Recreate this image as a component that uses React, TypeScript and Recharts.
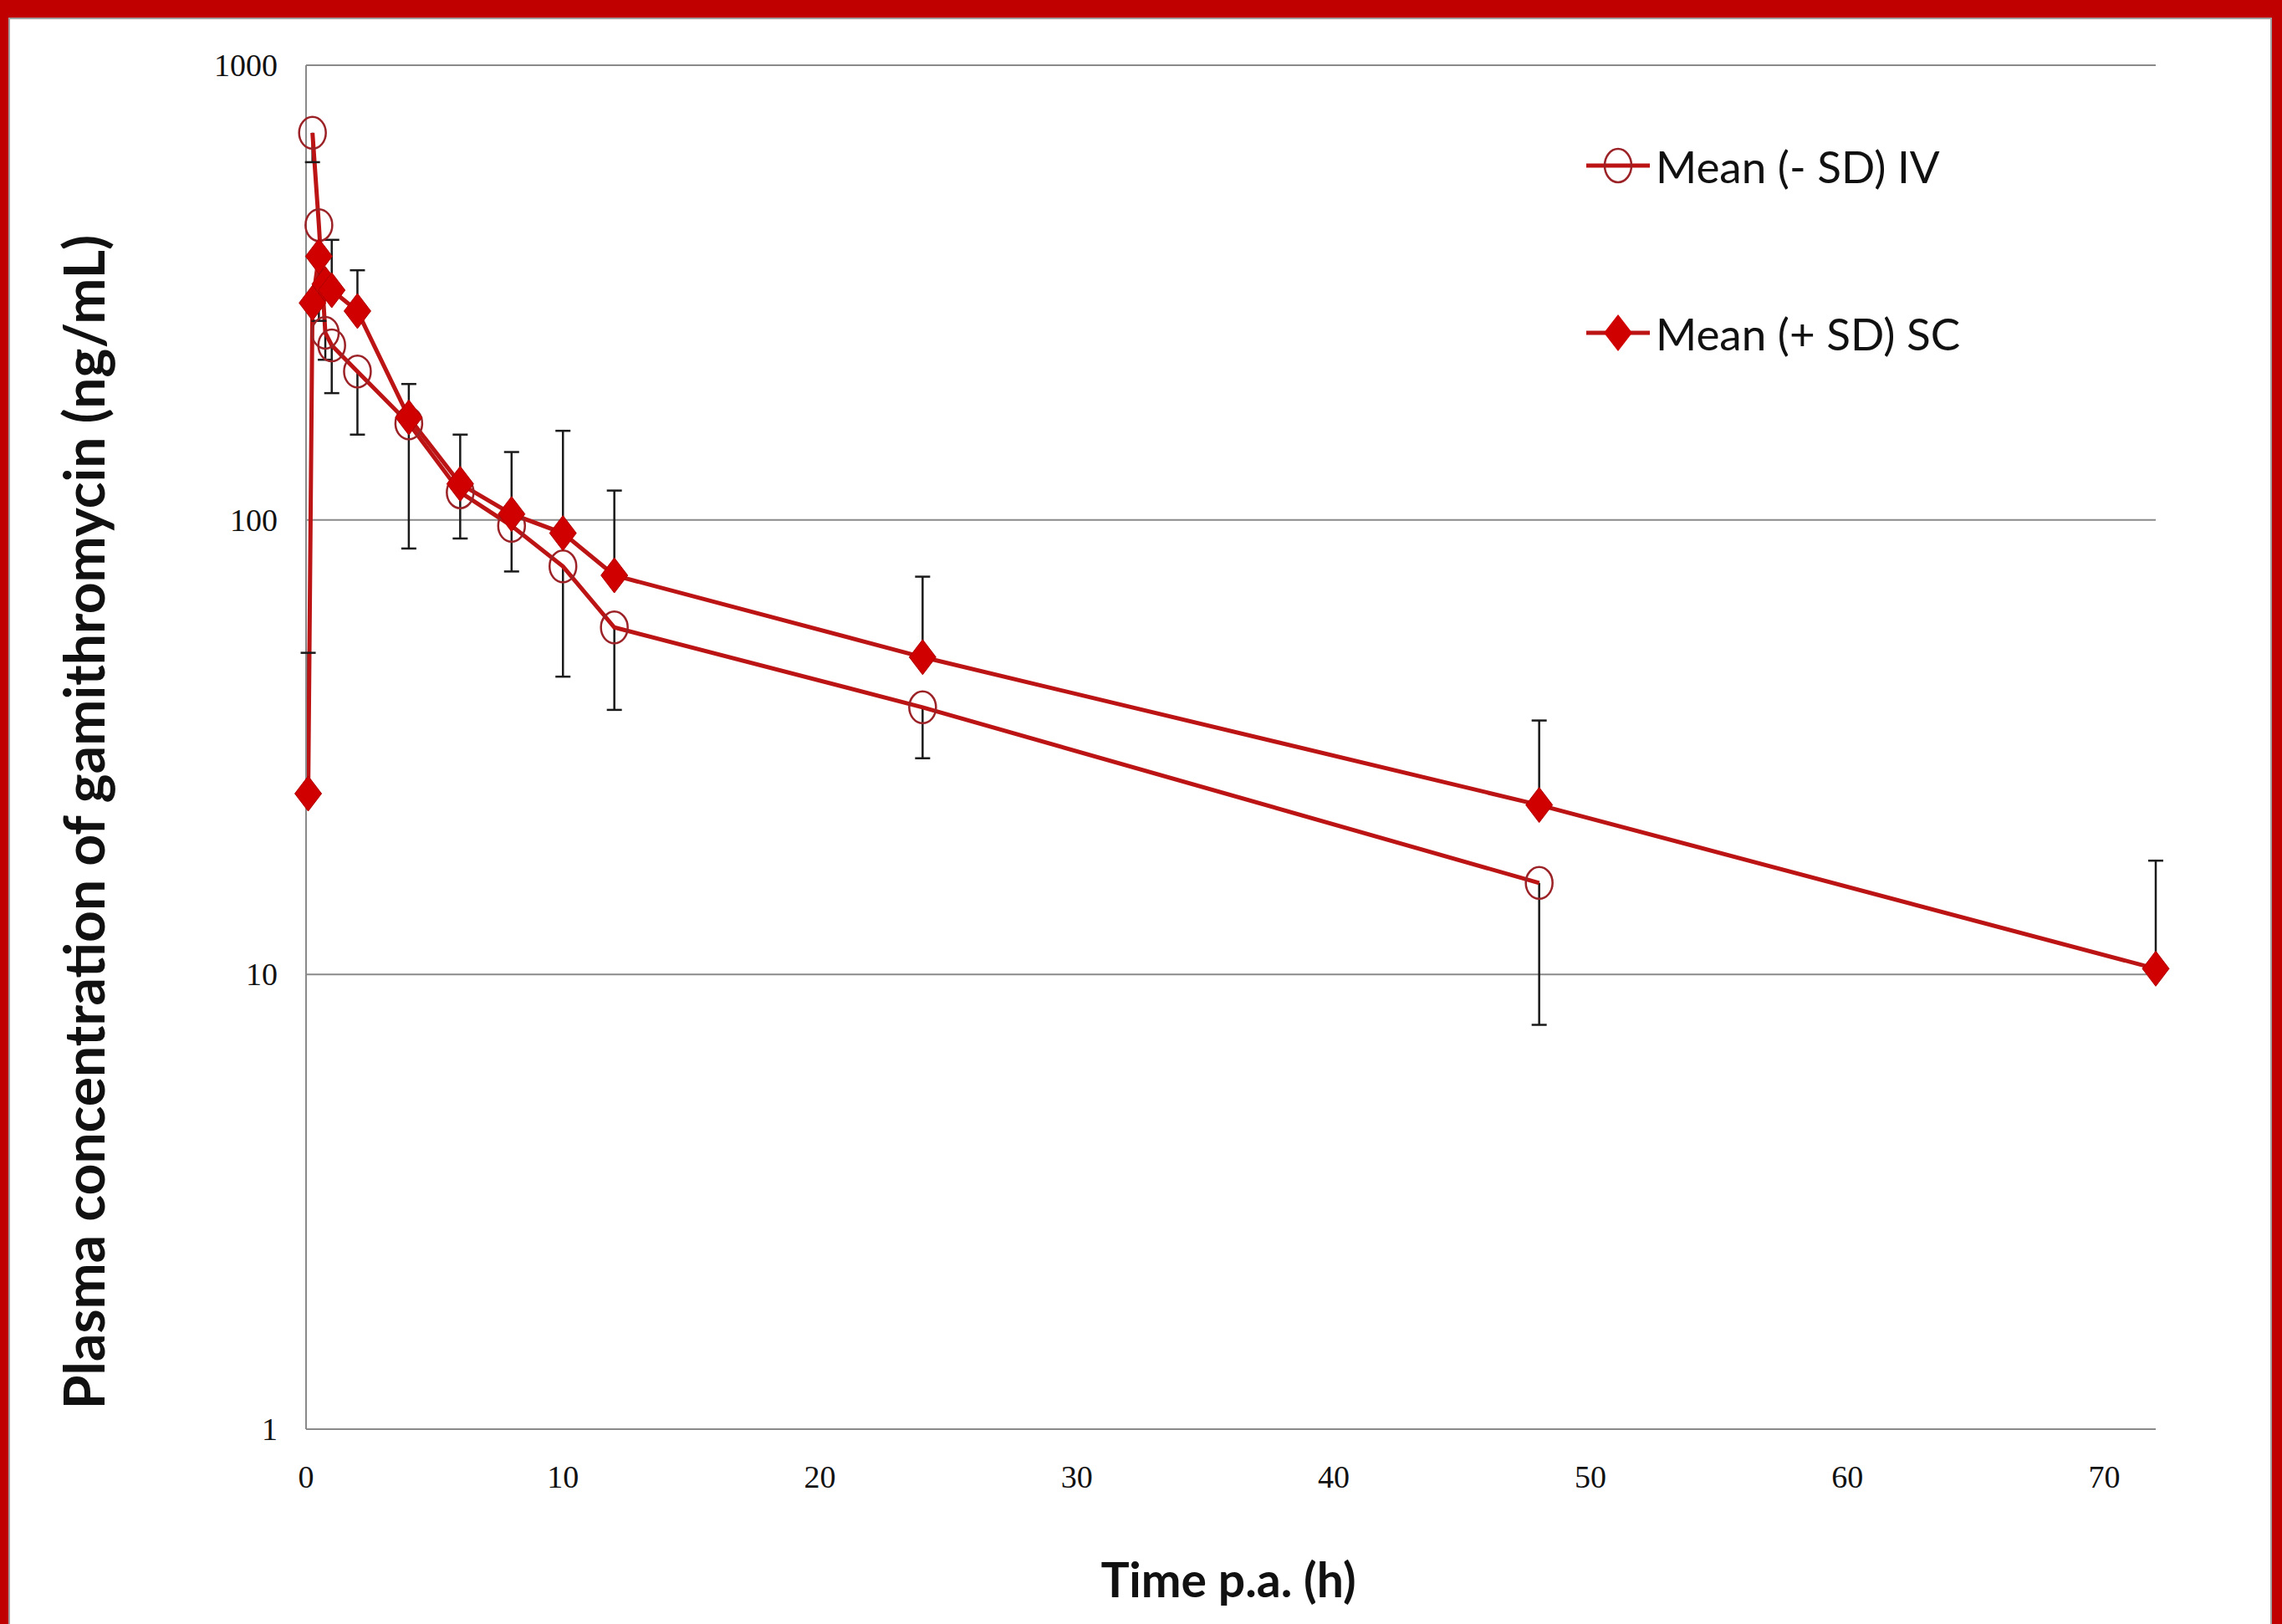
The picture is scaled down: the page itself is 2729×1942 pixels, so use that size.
import React from 'react';
import { ComposedChart, Line, Scatter, XAxis, YAxis, CartesianGrid } from 'recharts';

const W = 2729;
const H = 1942;

// IV group: mean and lower (mean - SD) ends, ng/mL
const ivTime = [0.25, 0.5, 0.75, 1, 2, 4, 6, 8, 10, 12, 24, 48];
const ivMean = [710, 445, 258, 242, 212, 163, 115, 97, 79, 58, 38.7, 15.9];
const ivMinusSd = [612, 274, 225, 190, 154, 86.5, 91, 77, 45.2, 38.2, 29.9, 7.75];

// SC group: mean and upper (mean + SD) ends, ng/mL
const scTime = [0.083, 0.25, 0.5, 0.75, 1, 2, 4, 6, 8, 10, 12, 24, 48, 72];
const scMean = [25, 300, 380, 330, 320, 288, 168, 120, 103, 93.5, 75.5, 49.9, 23.6, 10.3];
const scPlusSd = [51, null, null, null, 413, 354, 199, 154, 141, 157, 116, 75, 36.2, 17.8];

const xTicks = [0, 10, 20, 30, 40, 50, 60, 70];
const yTicks = [1, 10, 100, 1000];

const RED_LINE = '#BC1414';
const RED_FILL = '#D00000';
const CIRCLE_STROKE = '#9b2226';
const GRID = '#8a8a8a';
const BAR = '#1a1a1a';

const ivData = ivTime.map((t, i) => ({ t, v: ivMean[i] }));
const scData = scTime.map((t, i) => ({ t, v: scMean[i] }));

// error bars as broken line segments (null breaks the line)
const ivBars = ivTime.flatMap((t, i) => [
  { t, v: ivMean[i] },
  { t, v: ivMinusSd[i] },
  { t, v: null },
]);
const scBars = scTime.flatMap((t, i) =>
  scPlusSd[i] == null ? [] : [{ t, v: scMean[i] }, { t, v: scPlusSd[i] }, { t, v: null }]
);
const ivCaps = ivTime.map((t, i) => ({ t, v: ivMinusSd[i] }));
const scCaps = scTime
  .map((t, i) => ({ t, v: scPlusSd[i] }))
  .filter((d) => d.v != null);

function CircleDot(p: any) {
  if (p.cy == null || p.cx == null) return <g key={`c${p.index}`} />;
  return (
    <ellipse
      key={`c${p.index}`}
      cx={p.cx}
      cy={p.cy}
      rx={16}
      ry={19}
      fill="none"
      stroke={CIRCLE_STROKE}
      strokeWidth={2.5}
    />
  );
}

function DiamondDot(p: any) {
  if (p.cy == null || p.cx == null) return <g key={`d${p.index}`} />;
  const { cx, cy } = p;
  return (
    <polygon
      key={`d${p.index}`}
      points={`${cx},${cy - 21} ${cx + 16},${cy} ${cx},${cy + 21} ${cx - 16},${cy}`}
      fill={RED_FILL}
      stroke="#b00000"
      strokeWidth={1}
    />
  );
}

function Cap(p: any) {
  return <line x1={p.cx - 9} x2={p.cx + 9} y1={p.cy} y2={p.cy} stroke={BAR} strokeWidth={2.5} />;
}

function XTick({ x, y, payload }: any) {
  return (
    <text
      x={x}
      y={y + 57}
      textAnchor="middle"
      dominantBaseline="central"
      fontFamily="'Liberation Serif', serif"
      fontSize={38}
      fill="#111"
    >
      {payload.value}
    </text>
  );
}

function YTick({ x, y, payload }: any) {
  return (
    <text
      x={x - 34}
      y={y}
      textAnchor="end"
      dominantBaseline="central"
      fontFamily="'Liberation Serif', serif"
      fontSize={38}
      fill="#111"
    >
      {payload.value}
    </text>
  );
}

export default function App() {
  return (
    <div style={{ position: 'absolute', left: 0, top: 0, width: W, height: H, background: '#C00000', overflow: 'hidden' }}>
      {/* white slide area with thin grey frame */}
      <div
        style={{
          position: 'absolute',
          left: 10,
          top: 21,
          width: W - 22,
          height: H - 21 + 4,
          background: '#fff',
          border: '2px solid #a0a0a0',
          boxSizing: 'border-box',
        }}
      />
      <div style={{ position: 'absolute', left: 0, top: 0 }}>
        <ComposedChart width={W} height={H} margin={{ top: 78, right: 151, bottom: 173, left: 0 }}>
          <CartesianGrid vertical={false} stroke={GRID} strokeWidth={2} />
          <XAxis
            type="number"
            dataKey="t"
            domain={[0, 72]}
            ticks={xTicks}
            height={60}
            tickSize={0}
            tickMargin={0}
            tickLine={false}
            axisLine={{ stroke: GRID, strokeWidth: 2 }}
            tick={<XTick />}
          />
          <YAxis
            type="number"
            dataKey="v"
            scale="log"
            domain={[1, 1000]}
            ticks={yTicks}
            width={366}
            tickSize={0}
            tickMargin={0}
            tickLine={false}
            axisLine={{ stroke: GRID, strokeWidth: 2 }}
            tick={<YTick />}
          />
          <Line data={ivBars} dataKey="v" stroke={BAR} strokeWidth={2.5} dot={false} activeDot={false} isAnimationActive={false} legendType="none" />
          <Line data={scBars} dataKey="v" stroke={BAR} strokeWidth={2.5} dot={false} activeDot={false} isAnimationActive={false} legendType="none" />
          <Scatter data={ivCaps} dataKey="v" shape={<Cap />} isAnimationActive={false} legendType="none" />
          <Scatter data={scCaps} dataKey="v" shape={<Cap />} isAnimationActive={false} legendType="none" />
          <Line
            data={ivData}
            dataKey="v"
            name="Mean (- SD) IV"
            stroke={RED_LINE}
            strokeWidth={5}
            dot={CircleDot}
            activeDot={false}
            isAnimationActive={false}
          />
          <Line
            data={scData}
            dataKey="v"
            name="Mean (+ SD) SC"
            stroke={RED_LINE}
            strokeWidth={5}
            dot={DiamondDot}
            activeDot={false}
            isAnimationActive={false}
          />
        </ComposedChart>
      </div>
      {/* titles and legend */}
      <svg width={W} height={H} style={{ position: 'absolute', left: 0, top: 0, pointerEvents: 'none' }}>
        <text
          transform="translate(99,983) rotate(-90)"
          textAnchor="middle"
          dominantBaseline="central"
          fontFamily="Lato, sans-serif"
          fontWeight={700}
          fontSize={66}
          fill="#111"
        >
          Plasma concentration of gamithromycin (ng/mL)
        </text>
        <text
          x={1469}
          y={1888}
          textAnchor="middle"
          dominantBaseline="central"
          fontFamily="Lato, sans-serif"
          fontWeight={700}
          fontSize={57}
          fill="#111"
        >
          Time p.a. (h)
        </text>
        <g>
          <line x1={1897} x2={1973} y1={198} y2={198} stroke={RED_LINE} strokeWidth={5} />
          <ellipse cx={1935} cy={198} rx={16} ry={20} fill="none" stroke={CIRCLE_STROKE} strokeWidth={2.5} />
          <text x={1980} y={198} dominantBaseline="central" fontFamily="Lato, sans-serif" fontSize={53} fill="#111">
            Mean (- SD) IV
          </text>
        </g>
        <g>
          <line x1={1897} x2={1973} y1={398} y2={398} stroke={RED_LINE} strokeWidth={5} />
          <polygon points="1935,376 1952,398 1935,420 1918,398" fill={RED_FILL} />
          <text x={1980} y={398} dominantBaseline="central" fontFamily="Lato, sans-serif" fontSize={53} fill="#111">
            Mean (+ SD) SC
          </text>
        </g>
      </svg>
    </div>
  );
}
